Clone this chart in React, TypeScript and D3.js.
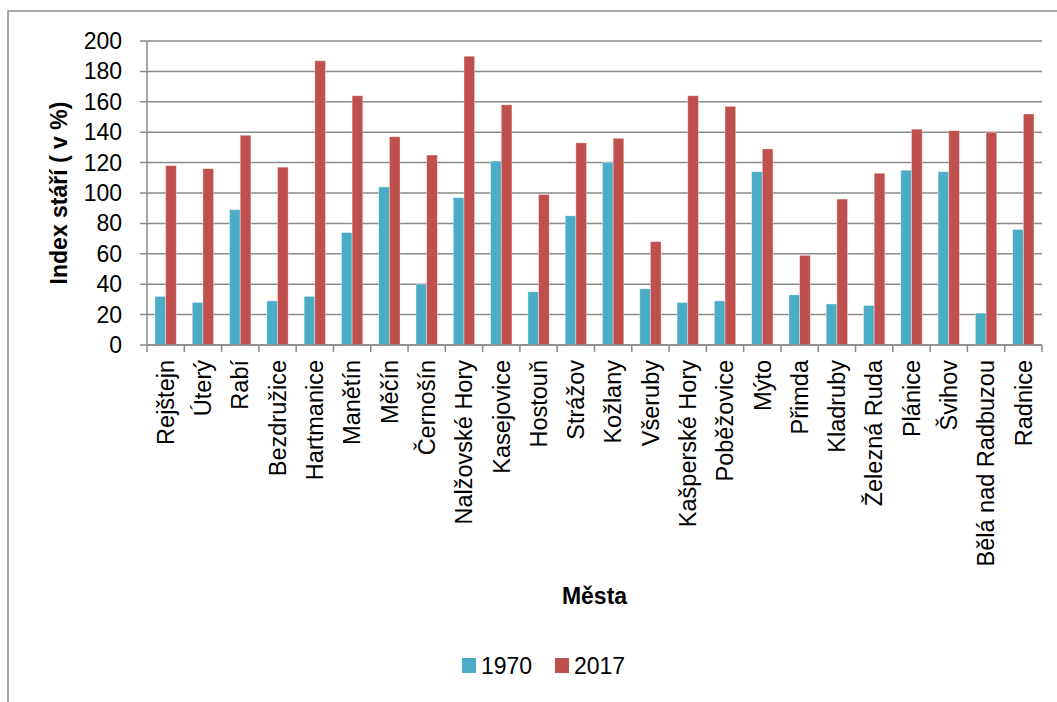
import React from 'react';
import * as d3 from 'd3';

const cities = [
  'Rejštejn', 'Úterý', 'Rabí', 'Bezdružice', 'Hartmanice', 'Manětín', 'Měčín', 'Černošín',
  'Nalžovské Hory', 'Kasejovice', 'Hostouň', 'Strážov', 'Kožlany', 'Všeruby', 'Kašperské Hory',
  'Poběžovice', 'Mýto', 'Přimda', 'Kladruby', 'Železná Ruda', 'Plánice', 'Švihov',
  'Bělá nad Radbuzou', 'Radnice',
];
const values1970 = [32, 28, 89, 29, 32, 74, 104, 40, 97, 121, 35, 85, 120, 37, 28, 29, 114, 33, 27, 26, 115, 114, 21, 76];
const values2017 = [118, 116, 138, 117, 187, 164, 137, 125, 190, 158, 99, 133, 136, 68, 164, 157, 129, 59, 96, 113, 142, 141, 140, 152];
const seriesNames = ['1970', '2017'];
const seriesColors = ['#4BACC6', '#C0504D'];
const yTicks = [0, 20, 40, 60, 80, 100, 120, 140, 160, 180, 200];

const W = 1057, H = 702;
const left = 147, right = 1042, top = 41, bottom = 345;
const font = '"Liberation Sans", Arial, sans-serif';
const grid = '#8a8a8a';

export default function App() {
  const x = d3.scaleBand().domain(cities).range([left, right]).paddingInner(0).paddingOuter(0);
  const y = d3.scaleLinear().domain([0, 200]).range([bottom, top]);
  const bw = x.bandwidth();
  const barW = bw * 0.286;
  const series = [values1970, values2017];

  return (
    <div style={{ position: 'absolute', left: 0, top: 0 }}>
      <svg width={W} height={H} style={{ display: 'block', background: '#fff' }}>
        {/* outer frame (right / bottom edges off screen) */}
        <rect x={8} y={11} width={1100} height={800} fill="none" stroke={grid} strokeWidth={1.5} />

        {/* grid + y ticks */}
        {yTicks.map(t => (
          <g key={t}>
            <line x1={left - 7} x2={right} y1={y(t)} y2={y(t)} stroke={grid} strokeWidth={1.5} />
            <text x={122} y={y(t)} dy="0.35em" textAnchor="end" fontFamily={font} fontSize={23} fill="#000">{t}</text>
          </g>
        ))}
        <line x1={left} x2={left} y1={top} y2={bottom} stroke={grid} strokeWidth={1.5} />

        {/* bars */}
        {cities.map((c, i) => {
          const cx = x(c)! + bw / 2;
          return series.map((vals, s) => (
            <rect key={c + s}
              x={cx - barW + s * barW} y={y(vals[i])}
              width={barW} height={bottom - y(vals[i])}
              fill={seriesColors[s]} stroke="#fff" strokeOpacity={0.45} strokeWidth={0.8} />
          ));
        })}

        {/* x axis */}
        <line x1={left} x2={right} y1={bottom} y2={bottom} stroke={grid} strokeWidth={1.5} />
        {d3.range(cities.length + 1).map(i => {
          const xx = left + i * bw;
          return <line key={i} x1={xx} x2={xx} y1={bottom} y2={bottom + 7} stroke={grid} strokeWidth={1.5} />;
        })}
        {cities.map(c => (
          <text key={c} transform={`translate(${x(c)! + bw / 2},360) rotate(-90)`} dy="0.35em"
            textAnchor="end" fontFamily={font} fontSize={23.5} fill="#000">{c}</text>
        ))}

        {/* axis titles */}
        <text transform={`translate(67,${(top + bottom) / 2}) rotate(-90)`} textAnchor="middle"
          fontFamily={font} fontSize={23} fontWeight="bold" fill="#000">Index stáří ( v %)</text>
        <text x={(left + right) / 2} y={604} textAnchor="middle"
          fontFamily={font} fontSize={23} fontWeight="bold" fill="#000">Města</text>

        {/* legend */}
        {seriesNames.map((n, s) => (
          <g key={n} transform={`translate(${462 + s * 93},658)`}>
            <rect x={0} y={0} width={14} height={15} fill={seriesColors[s]} />
            <text x={19} y={16} fontFamily={font} fontSize={23} fill="#000">{n}</text>
          </g>
        ))}
      </svg>
    </div>
  );
}
